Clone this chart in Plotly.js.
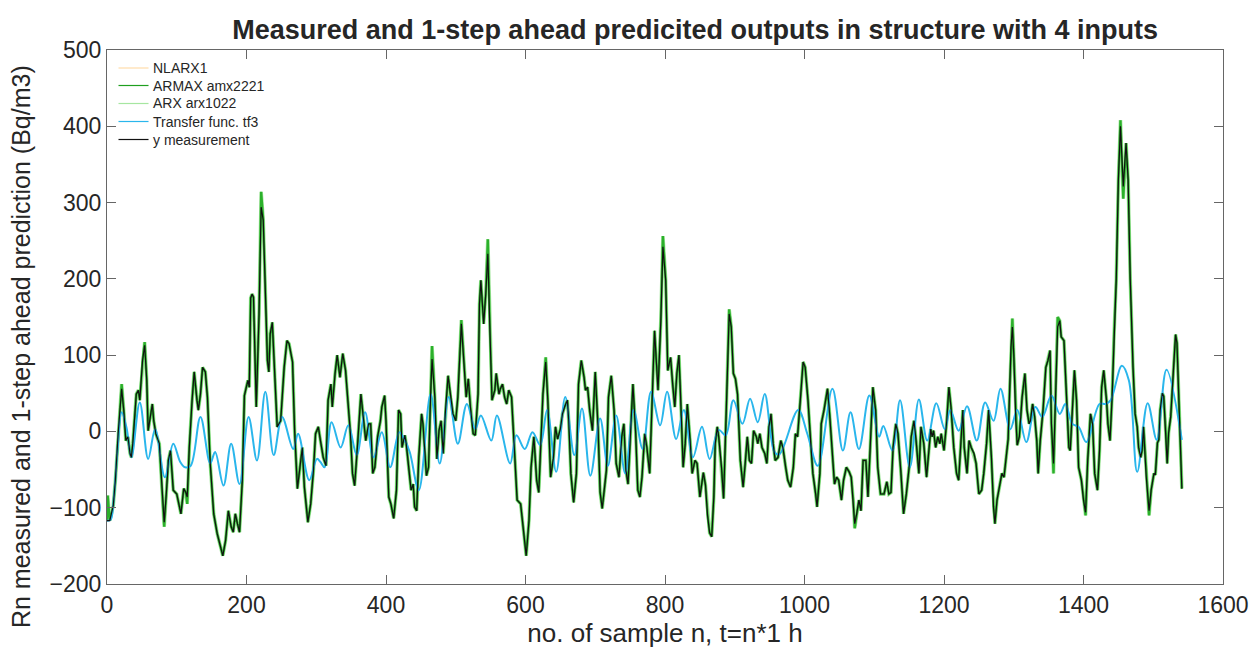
<!DOCTYPE html>
<html>
<head>
<meta charset="utf-8">
<script src="https://cdn.plot.ly/plotly-3.0.1.min.js"></script>
<style>
  body { margin: 0; background: #fff; }
  #chart { width: 1258px; height: 660px; }
</style>
</head>
<body>
<div id="chart"></div>
<script>
// measured y (sample n, Bq/m3)
const measN = [0, 4, 9, 12, 16, 21, 24, 27, 30, 33, 35, 37, 42, 45, 47, 51, 54, 57, 59, 61, 65, 67, 70, 75, 78, 82, 85, 88, 91, 95,
  100, 106, 110, 113, 115, 118, 122, 125, 129, 131, 134, 137, 141, 144, 148, 153, 158, 161, 163, 166, 170, 174, 178, 181, 184, 187, 190, 194, 197,
  202, 204, 206, 208, 210, 214, 218, 221, 224, 227, 230, 232, 234, 237, 240, 244, 249, 254, 258, 261, 266, 269, 273, 277, 280, 283, 288, 292, 296, 299,
  303, 306, 310, 314, 317, 321, 323, 327, 330, 334, 338, 342, 345, 349, 352, 355, 359, 364, 368, 371, 375, 378, 381, 384, 388, 392, 394, 398,
  400, 404, 407, 411, 415, 418, 421, 423, 427, 429, 433, 436, 439, 441, 444, 447, 451, 453, 458, 461, 464, 466, 470, 473, 476, 479, 482, 485, 489, 493, 496,
  500, 503, 508, 512, 515, 518, 521, 525, 528, 532, 534, 536, 540, 543, 546, 549, 552, 556, 558, 562, 564, 567, 570, 573, 576, 580, 583, 588, 593, 597,
  601, 605, 608, 612, 616, 619, 622, 625, 629, 632, 636, 640, 643, 646, 650, 653, 656, 660, 662, 665, 669, 673, 676, 680, 684, 686, 689, 692, 696, 698,
  700, 704, 707, 710, 712, 716, 719, 723, 727, 730, 734, 738, 741, 744, 747, 751, 754, 758, 761, 764, 767, 771, 774, 778, 782, 785, 790, 794, 797,
  801, 804, 808, 811, 814, 817, 820, 822, 826, 829, 832, 836, 839, 843, 846, 850, 855, 858, 861, 864, 867, 870, 872, 875, 877, 881, 884, 888, 892, 895, 898,
  901, 904, 908, 912, 915, 918, 921, 924, 927, 931, 933, 936, 939, 943, 946, 949, 952, 955, 958, 962, 966, 969, 973, 976, 980, 984, 987, 990, 994, 998,
  1001, 1005, 1009, 1012, 1016, 1018, 1022, 1024, 1028, 1030, 1033, 1036, 1040, 1043, 1046, 1049, 1053, 1056, 1060, 1064, 1067, 1070, 1072, 1075, 1078, 1081, 1084, 1088, 1091, 1094, 1096, 1098,
  1102, 1105, 1109, 1114, 1118, 1121, 1124, 1127, 1131, 1134, 1138, 1142, 1146, 1150, 1153, 1157, 1160, 1164, 1167, 1171, 1175, 1178, 1181, 1183, 1185, 1188, 1191, 1194, 1196,
  1200, 1204, 1207, 1210, 1214, 1218, 1221, 1224, 1227, 1229, 1233, 1236, 1239, 1243, 1246, 1250, 1254, 1257, 1261, 1264, 1268, 1271, 1273, 1276, 1280, 1283, 1286, 1289, 1292, 1294, 1296, 1298,
  1300, 1303, 1305, 1308, 1312, 1316, 1319, 1322, 1324, 1327, 1330, 1333, 1335, 1338, 1342, 1346, 1349, 1352, 1354, 1357, 1360, 1363, 1366, 1368, 1372, 1375, 1379, 1381, 1384, 1387, 1390, 1393, 1397,
  1400, 1403, 1406, 1410, 1413, 1416, 1420, 1423, 1426, 1429, 1433, 1435, 1438, 1441, 1444, 1447, 1450, 1453, 1457, 1461, 1464, 1467, 1471, 1474, 1477, 1479, 1482, 1484, 1486, 1490, 1494, 1497,
  1501, 1503, 1506, 1508, 1510, 1513, 1515, 1518, 1520, 1522, 1525, 1527, 1530, 1532, 1534, 1537, 1539, 1541]
const measY = [-117, -117, -97, -64, -3, 56, 28, -12, -7, -29, -34, -16, 49, 54, 41, 93, 113, 67, 1, 14, 36, 14, -3, -16, -64, -119, -82, -38, -25, -77,
  -82, -108, -75, -80, -86, -21, 41, 78, 41, 28, 49, 84, 78, 45, -42, -108, -134, -143, -152, -163, -143, -104, -125, -132, -108, -121, -132, -64, 47,
  67, 58, 175, 180, 176, 32, 154, 294, 277, 167, 93, 78, 128, 143, 84, 6, 14, 84, 119, 115, 91, 1, -75, -47, -21, -73, -119, -95, -51, -3,
  6, -12, -34, -45, 41, 62, 32, 76, 100, 71, 102, 80, 49, -3, -55, -71, -21, 49, 14, -12, 10, 10, -55, -47, -7, 14, 32, 47,
  14, -86, -95, -114, -77, 28, 23, -21, -5, -16, -51, -77, -69, -99, -104, -34, 23, 10, -58, -47, 49, 95, 45, -36, 1, 14, -29, 23, 73, 41, 23,
  14, 45, 141, 80, 45, 69, 32, -3, -5, 49, 167, 198, 141, 180, 233, 132, 41, 54, 76, 49, 56, 62, 45, 36, 54, 45, -3, -90, -95, -130,
  -163, -117, -47, -7, -64, -80, -21, 49, 91, 41, -60, -35, 6, -10, 3, 23, 32, 41, 14, -55, -93, -55, 62, 93, 71, 54, 58, 28, 1, 32,
  78, 6, -80, -101, -82, -51, 45, 73, 28, -42, -60, -7, 10, -51, -69, -3, 62, -3, -77, -86, -60, -3, -21, -55, 67, 132, 54, 145, 242,
  198, 80, 97, 62, 32, 76, 100, 54, -47, -16, 36, -12, -55, -38, -42, -86, -54, -70, -110, -133, -138, -86, -16, 6, -7, -47, -88, 32, 154, 137, 76,
  69, 49, -38, -73, -42, -7, -38, -42, 1, -7, -16, -3, -21, -29, -42, 6, 23, -16, -38, -34, -12, -21, -47, -64, -73, -47, -3, -7, 41, 91,
  84, 41, -16, -55, -82, -99, -55, 10, 28, 41, 56, 23, -38, -69, -60, -64, -90, -64, -47, -53, -60, -92, -121, -107, -90, -104, -38, -38, -86, -25, 23, 58,
  28, -47, -82, -82, -66, -82, -80, -21, 10, -3, -51, -108, -82, -47, -7, 14, -12, -55, 6, -16, -60, -25, 3, -7, 1, -21, -7, -16, -3,
  -25, 14, 58, 32, -21, -55, -64, -16, 28, -21, -55, -12, -21, -29, -42, -82, -77, -55, -16, 28, -34, -99, -121, -90, -69, -55, -60, -34, -10, 50, 110, 137,
  102, 14, -18, -7, 45, 76, 28, 10, 14, 36, 19, -12, -55, -12, 28, 84, 93, 106, 10, -42, 58, 137, 145, 124, 119, 58, -21, -25, 32, 80, 41, -47, -64,
  -90, -106, -38, 23, 10, -55, -77, -25, 58, 80, 41, 10, -12, 45, 132, 200, 330, 400, 321, 378, 330, 200, 84, 23, 6, -21, -34, -25, 6, -60, -104, -77,
  -55, -57, -15, -11, 28, 50, 46, -2, -42, -2, 19, 50, 94, 127, 116, 41, -29, -75]

// where the green prediction lines stick out past the measured line
const spikeN = [1, 21, 54, 82, 115, 221, 466, 508, 546, 629, 797, 892, 1072, 1298, 1357, 1363, 1403, 1453, 1457, 1494]
const spikeY = [-84, 62, 117, -125, -95, 314, 112, 146, 252, 97, 256, 160, -127, 148, -55, 150, -110, 408, 305, -110]

// transfer function tf3 output, turning points
const tfN = [0, 5, 10, 15, 21, 28, 35, 47, 59, 69, 83, 95, 105, 112, 120, 134, 148, 155, 167, 178, 190, 203, 215, 227, 239, 251, 267, 274, 290,
  301, 306, 312, 322, 335, 346, 358, 370, 382, 394, 406, 419, 426, 434, 447, 464, 477, 490, 503, 516, 528, 536, 551, 559, 578, 587, 599,
  610, 621, 631, 644, 657, 670, 681, 693, 707, 718, 730, 743, 755, 768, 780, 793, 803, 816, 827, 840, 853, 864, 877, 887, 898,
  911, 922, 933, 943, 957, 964, 991, 1004, 1019, 1040, 1055, 1066, 1078, 1093, 1107, 1113, 1126, 1137, 1151, 1164, 1176, 1189,
  1201, 1209, 1221, 1233, 1247, 1259, 1271, 1281, 1295, 1305, 1318, 1331, 1341, 1354, 1366, 1374, 1384, 1393, 1404, 1423, 1432, 1439,
  1455, 1465, 1477, 1492, 1505, 1519, 1541]
const tfY = [-117, -116, -85, -25, 25, 5, -34, 38, -36, 3, -60, -16, -40, -47, -45, 19, -42, -27, -71, -16, -69, 19, -38, 52, -31, 19, -23, -3, -64,
  -36, -40, -47, 12, -21, 8, -31, 25, -34, -1, -47, -1, -10, -27, -77, 49, -42, 45, -16, 36, 3, 21, -12, 21, -42, -5, -23,
  -1, -18, 28, -53, 45, -31, 30, -58, 17, -45, 21, -55, 28, -23, 52, 8, 52, -10, 28, -34, 6, -36, 2, -5, 41,
  10, 43, 12, 49, -27, -30, 28, -3, -45, 56, -25, 25, -23, 47, -7, 7, -25, 41, -47, 42, -12, 37,
  3, 28, 1, 33, -12, 38, 14, 56, 3, 28, -14, 32, 19, 47, 23, 36, 10, 6, -14, 36, 36, 41,
  86, 67, -53, 37, -11, 81, -11]

const seriesNames = ["NLARX1", "ARMAX amx2221", "ARX arx1022", "Transfer func. tf3", "y measurement"]
const seriesColors = ["#ffdcaa", "#1f9f1f", "#a6e6a0", "#2ab6ec", "#111111"]

// prediction lines follow the measured line, with the spikes read above
function withSpikes(n, y) {
  const pts = n.map((v, i) => [v, y[i]])
  spikeN.forEach((s, i) => {
    const j = pts.findIndex(p => p[0] === s)
    if (j >= 0) pts[j][1] = spikeY[i]
    else pts.push([s, spikeY[i]])
  })
  pts.sort((a, b) => a[0] - b[0])
  return { x: pts.map(p => p[0]), y: pts.map(p => p[1]) }
}

const pred = withSpikes(measN, measY)

const traces = [
  { x: measN, y: measY, name: seriesNames[0], mode: "lines", line: { color: seriesColors[0], width: 1.2 } },
  { x: pred.x, y: pred.y, name: seriesNames[2], mode: "lines", line: { color: seriesColors[2], width: 3.6 } },
  { x: pred.x, y: pred.y, name: seriesNames[1], mode: "lines", line: { color: "#2bb02b", width: 2.3 } },
  { x: tfN, y: tfY, name: seriesNames[3], mode: "lines", line: { color: seriesColors[3], width: 2, shape: "spline", smoothing: 1 } },
  { x: measN, y: measY, name: seriesNames[4], mode: "lines", line: { color: seriesColors[4], width: 1.2 } },
]

// legend drawn by hand so the rows sit as close as in the original
const legRowsY = [68, 85.5, 103.5, 121.5, 139.5]
const plotTop = 50, plotH = 534
const shapes = []
const annotations = []
seriesNames.forEach((nm, i) => {
  const py = (plotTop + plotH - legRowsY[i]) / plotH
  shapes.push({ type: "line", xref: "x domain", yref: "y domain", x0: 0.0103, x1: 0.0372, y0: py, y1: py,
    line: { color: seriesColors[i], width: 1.2 } })
  annotations.push({ xref: "x domain", yref: "y domain", x: 0.0395, y: py, xanchor: "left", yanchor: "middle",
    text: nm, showarrow: false, font: { family: "Liberation Sans, Arial, sans-serif", size: 14, color: "#262626" } })
})
annotations.push({
  xref: "paper", yref: "paper", x: -0.077, y: (plotTop + plotH - 347) / plotH, xanchor: "center", yanchor: "middle",
  text: "Rn measured and 1-step ahead prediction (Bq/m3)", textangle: -90, showarrow: false,
  font: { family: "Liberation Sans, Arial, sans-serif", size: 25, color: "#262626" },
})

const axisFont = { family: "Liberation Sans, Arial, sans-serif", size: 23, color: "#262626" }

const layout = {
  width: 1258,
  height: 660,
  margin: { l: 107, r: 35, t: 50, b: 76 },
  paper_bgcolor: "#ffffff",
  plot_bgcolor: "#ffffff",
  font: { family: "Liberation Sans, Arial, sans-serif", color: "#262626" },
  title: {
    text: "<b>Measured and 1-step ahead predicited outputs in structure with 4 inputs</b>",
    font: { family: "Liberation Sans, Arial, sans-serif", size: 27, color: "#262626" },
    x: 0.527,
    xref: "paper",
    xanchor: "center",
    y: 0.955,
    yref: "container",
    yanchor: "middle",
  },
  xaxis: {
    range: [0, 1600],
    tick0: 0,
    dtick: 200,
    ticks: "inside",
    ticklen: 9,
    tickcolor: "#666",
    showline: true,
    linecolor: "#666",
    linewidth: 1,
    mirror: "ticks",
    showgrid: false,
    zeroline: false,
    tickfont: axisFont,
    title: { text: "no. of sample n, t=n*1 h", font: { family: "Liberation Sans, Arial, sans-serif", size: 26, color: "#262626" }, standoff: 6 },
  },
  yaxis: {
    range: [-200, 500],
    tick0: -200,
    dtick: 100,
    ticks: "inside",
    ticklen: 9,
    tickcolor: "#666",
    showline: true,
    linecolor: "#666",
    linewidth: 1,
    mirror: "ticks",
    showgrid: false,
    zeroline: false,
    tickfont: axisFont,
  },
  showlegend: false,
  shapes: shapes,
  annotations: annotations,
}

Plotly.newPlot("chart", traces, layout, { displayModeBar: false, staticPlot: true })
</script>
</body>
</html>
